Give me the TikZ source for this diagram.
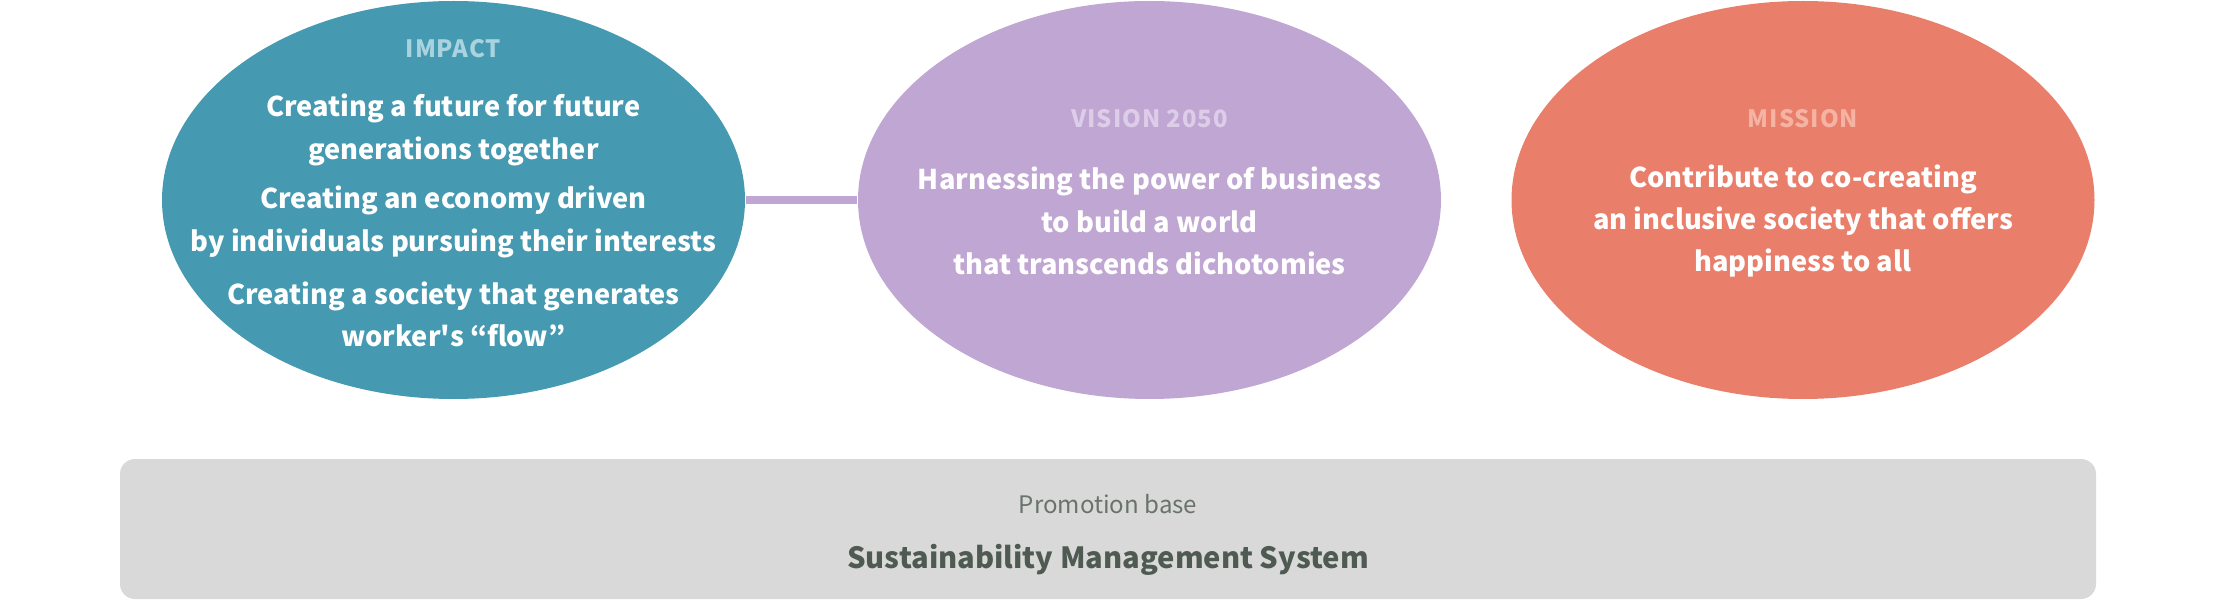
\documentclass[tikz,border=0pt]{standalone}
\usepackage{fontspec}
\setmainfont{Noto Sans CJK JP}
\newfontfamily\capsfont[LetterSpace=4]{Noto Sans CJK JP}
\newcommand{\straightq}{{\addfontfeature{Ligatures=TeXOff}'}}
\usepackage{tikz}
\usetikzlibrary{shapes,backgrounds}
\definecolor{impactblue}{HTML}{4599B0}
\definecolor{impactlbl}{HTML}{A9D3DF}
\definecolor{visionpurple}{HTML}{C0A6D2}
\definecolor{visionlbl}{HTML}{DDCDE8}
\definecolor{missionred}{HTML}{E97F6A}
\definecolor{missionlbl}{HTML}{F4B3A3}
\definecolor{basegray}{HTML}{D9D9D9}
\definecolor{basetext}{HTML}{4E5A52}
\pgfdeclarelayer{edgelayer}
\pgfdeclarelayer{nodelayer}
\pgfsetlayers{edgelayer,nodelayer,main}
\tikzstyle{none}=[inner sep=0pt]
\tikzstyle{bubble}=[ellipse,draw=none,inner sep=0pt,minimum width=5.83cm,minimum height=3.98cm]
\tikzstyle{caption}=[inner sep=0pt,font=\capsfont\bfseries\fontsize{6.8}{9}\selectfont]
\tikzstyle{body}=[inner sep=0pt,align=center,text=white,font=\bfseries\fontsize{7.75}{12}\selectfont]
\tikzstyle{link}=[-,draw=visionpurple,line width=0.08cm]
\tikzstyle{base}=[rectangle,rounded corners=0.15cm,fill=basegray,draw=none,minimum width=19.76cm,minimum height=1.4cm]
\begin{document}
\begin{tikzpicture}
	\useasboundingbox (0,0) rectangle (22.16,6);
	\begin{pgfonlayer}{nodelayer}
		\node [style=bubble, fill=impactblue] (impact) at (4.535, 4) {};
		\node [style=bubble, fill=visionpurple] (vision) at (11.495, 4) {};
		\node [style=bubble, fill=missionred] (mission) at (18.03, 4) {};
		\node [style=base] (promo) at (11.08, 0.71) {};
	\end{pgfonlayer}

	\node [style=caption, text=impactlbl] (impactcap) at (4.535, 5.51) {IMPACT};
	\node [style=body] (impact1) at (4.535, 4.70) {Creating a future for future\\generations together};
	\node [style=body] (impact2) at (4.535, 3.78) {Creating an economy driven\\by individuals pursuing their interests};
	\node [style=body] (impact3) at (4.535, 2.86) {Creating a society that generates\\worker\straightq s “flow”};

	\node [style=caption, text=visionlbl] (visioncap) at (11.495, 4.81) {VISION 2050};
	\node [style=body] (vision1) at (11.495, 3.79) {Harnessing the power of business\\to build a world\\that transcends dichotomies};

	\node [style=caption, text=missionlbl] (missioncap) at (18.03, 4.81) {MISSION};
	\node [style=body] (mission1) at (18.03, 3.79) {Contribute to co-creating\\an inclusive society that offers\\happiness to all};

	\node [style=none, text=basetext!85!white, font=\fontsize{6.85}{9}\selectfont] (promocap) at (11.08, 0.96) {Promotion base};
	\node [style=none, text=basetext, font=\bfseries\fontsize{8.3}{11}\selectfont] (promotitle) at (11.08, 0.40) {Sustainability Management System};

	\begin{pgfonlayer}{edgelayer}
		\draw [style=link] (impact) to (vision);
	\end{pgfonlayer}
\end{tikzpicture}
\end{document}
